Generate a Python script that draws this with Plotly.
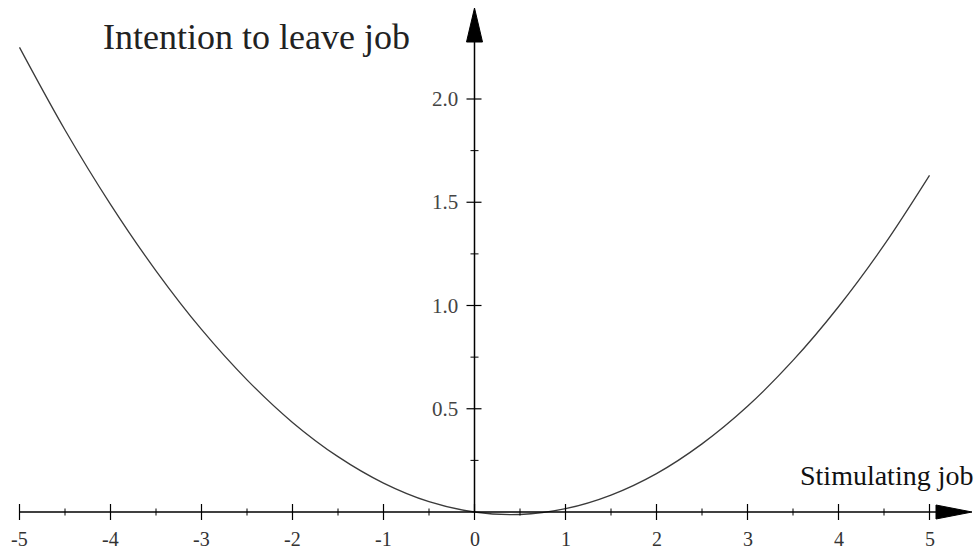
import plotly.graph_objects as go

# Data
x_vals = [-5, -4.5, -4, -3.5, -3, -2.5, -2, -1.5, -1, -0.5, 0, 0.5, 1, 1.5, 2, 2.5, 3, 3.5, 4, 4.5, 5]
y_vals = [2.25, 1.85, 1.49, 1.168, 0.884, 0.64, 0.434, 0.268, 0.14, 0.05, 0.0, -0.012, 0.016, 0.082, 0.186, 0.33, 0.512, 0.734, 0.994, 1.292, 1.63]

x_major = [-5, -4, -3, -2, -1, 0, 1, 2, 3, 4, 5]
x_labels = ["-5", "-4", "-3", "-2", "-1", "0", "1", "2", "3", "4", "5"]
x_minor = [-4.5, -3.5, -2.5, -1.5, -0.5, 0.5, 1.5, 2.5, 3.5, 4.5]
y_major = [0.5, 1.0, 1.5, 2.0]
y_labels = ["0.5", "1.0", "1.5", "2.0"]
y_minor = [0.25, 0.75, 1.25, 1.75]

y_title = "Intention to leave job"
x_title = "Stimulating job"

PX_X = 91.0     # pixels per x unit
PX_Y = 206.5    # pixels per y unit
SERIF = "Liberation Serif, Times New Roman, serif"

fig = go.Figure()
fig.add_trace(go.Scatter(x=x_vals, y=y_vals, mode="lines",
                         line=dict(color="#3a3a3a", width=1.3, shape="spline", smoothing=1.0),
                         hoverinfo="skip", showlegend=False))

shapes = []
line_style = dict(color="black", width=1.5)
# axis lines
shapes.append(dict(type="line", xref="x", yref="y", x0=x_major[0], x1=5.1, y0=0, y1=0, line=line_style))
shapes.append(dict(type="line", xref="x", yref="y", x0=0, x1=0, y0=0, y1=2.3, line=line_style))
# x ticks (crossing the axis)
for v in x_major:
    shapes.append(dict(type="line", xref="x", yref="y", x0=v, x1=v,
                       y0=-8 / PX_Y, y1=8 / PX_Y, line=dict(color="black", width=1.2)))
for v in x_minor:
    shapes.append(dict(type="line", xref="x", yref="y", x0=v, x1=v,
                       y0=-3.5 / PX_Y, y1=3.5 / PX_Y, line=dict(color="black", width=1)))
# y ticks
for v in y_major:
    shapes.append(dict(type="line", xref="x", yref="y", x0=-8 / PX_X, x1=7 / PX_X,
                       y0=v, y1=v, line=dict(color="black", width=1.2)))
for v in y_minor:
    shapes.append(dict(type="line", xref="x", yref="y", x0=-4 / PX_X, x1=4 / PX_X,
                       y0=v, y1=v, line=dict(color="black", width=1)))
# arrow heads
ytip, ybase, yhw = 504 / PX_Y, 470 / PX_Y, 8 / PX_X
shapes.append(dict(type="path", xref="x", yref="y",
                   path=f"M {-yhw} {ybase} L 0 {ytip} L {yhw} {ybase} Z",
                   fillcolor="black", line=dict(color="black", width=1)))
xtip, xbase, xhw = 497.5 / PX_X, 461.5 / PX_X, 7 / PX_Y
shapes.append(dict(type="path", xref="x", yref="y",
                   path=f"M {xbase} {-xhw} L {xtip} 0 L {xbase} {xhw} Z",
                   fillcolor="black", line=dict(color="black", width=1)))

annotations = []
for v, t in zip(x_major, x_labels):
    annotations.append(dict(x=v, y=0, xref="x", yref="y", text=t, showarrow=False,
                            xanchor="center", yanchor="middle", yshift=-27,
                            font=dict(family=SERIF, size=20, color="#333333")))
for v, t in zip(y_major, y_labels):
    annotations.append(dict(x=0, y=v, xref="x", yref="y", text=t, showarrow=False,
                            xanchor="right", yanchor="middle", xshift=-15,
                            font=dict(family=SERIF, size=21, color="#444444")))
annotations.append(dict(x=101 / 979, y=1 - 37 / 553, xref="paper", yref="paper", text=y_title,
                        showarrow=False, xanchor="left", yanchor="middle",
                        font=dict(family=SERIF, size=36, color="#222222")))
annotations.append(dict(x=975 / 979, y=1 - 475 / 553, xref="paper", yref="paper", text=x_title,
                        showarrow=False, xanchor="right", yanchor="middle",
                        font=dict(family=SERIF, size=28, color="#111111")))

fig.update_layout(
    width=979, height=553,
    margin=dict(l=0, r=0, t=0, b=0),
    paper_bgcolor="white", plot_bgcolor="white",
    xaxis=dict(range=[-474.5 / PX_X, (979 - 474.5) / PX_X], visible=False, fixedrange=True),
    yaxis=dict(range=[-41 / PX_Y, 512 / PX_Y], visible=False, fixedrange=True),
    shapes=shapes, annotations=annotations,
)

fig.write_html("out.html", config={"displayModeBar": False},
               post_script="document.body.style.margin='0px';document.body.style.overflow='hidden';")
